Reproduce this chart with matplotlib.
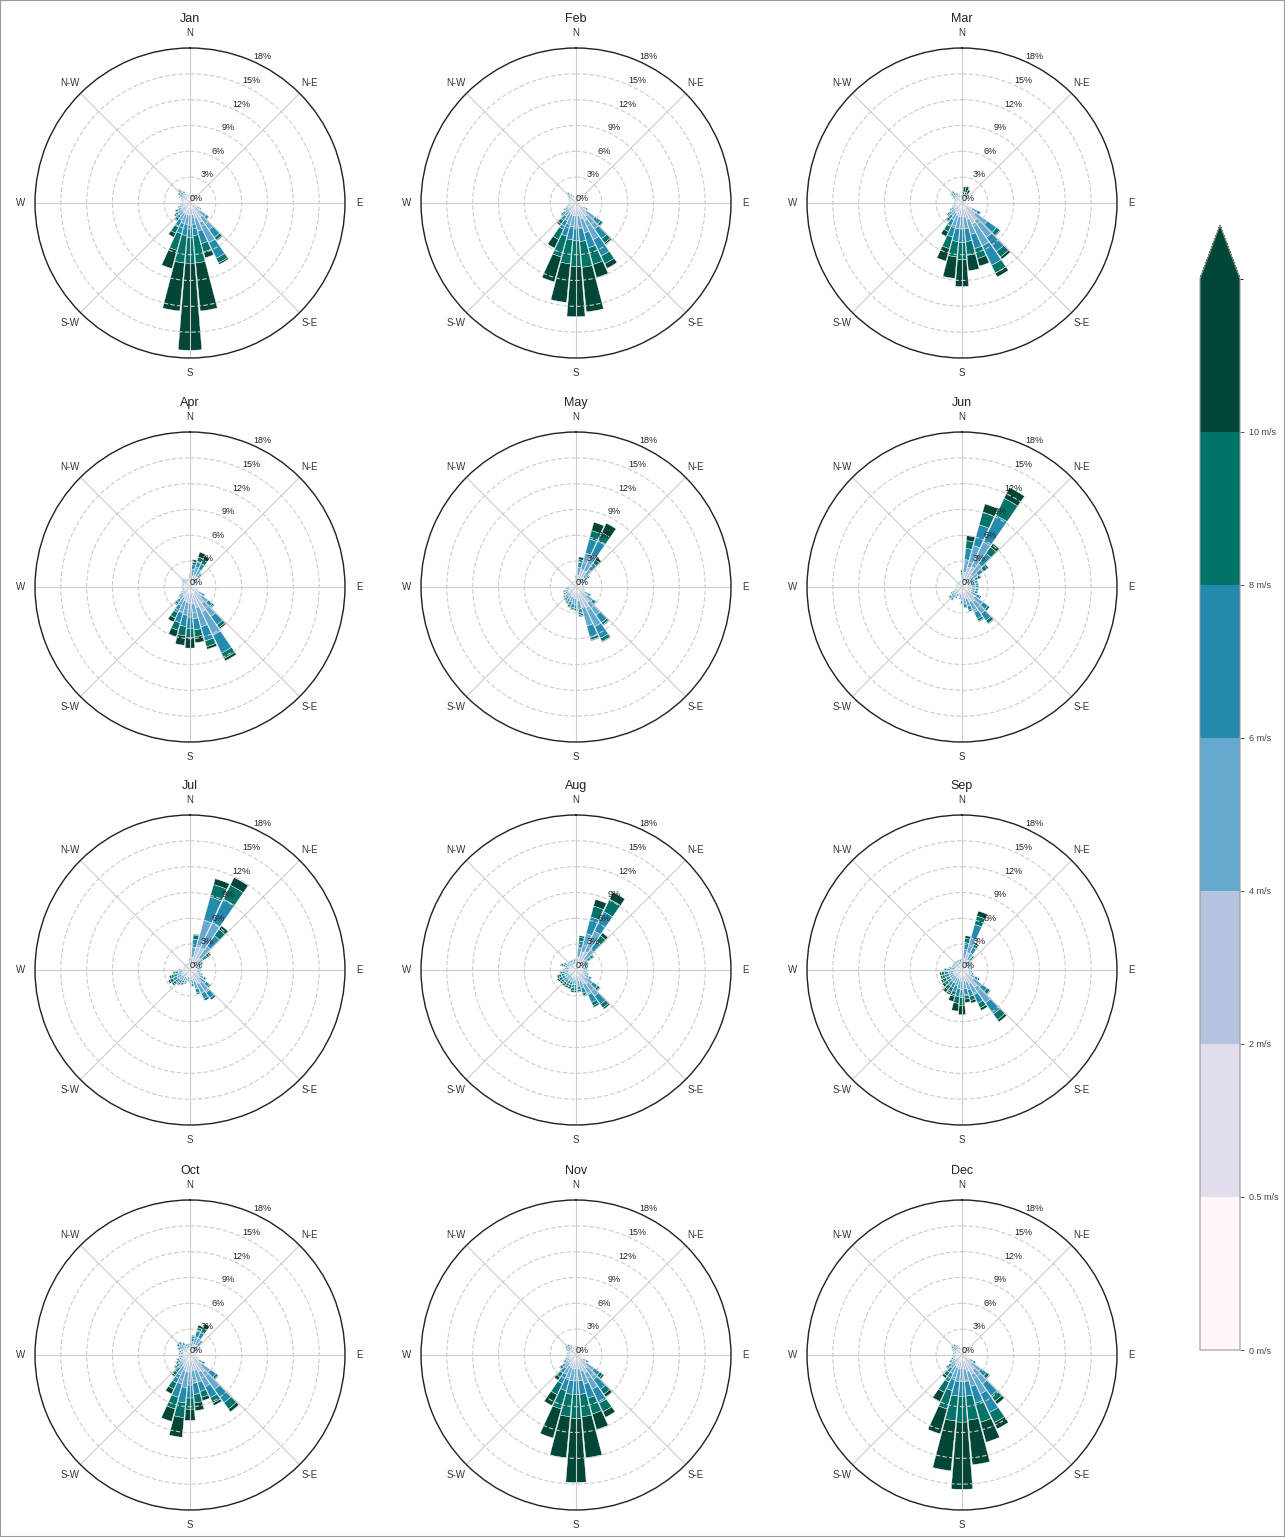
import numpy as np
import matplotlib
matplotlib.use("Agg")
import matplotlib.pyplot as plt
from matplotlib import colors as mcolors
from matplotlib.patches import Rectangle

months = ["Jan", "Feb", "Mar", "Apr", "May", "Jun",
          "Jul", "Aug", "Sep", "Oct", "Nov", "Dec"]
directions = np.arange(0, 360, 10)
speed_bins = [0, 0.5, 2, 4, 6, 8, 10]
speed_labels = ["0 m/s", "0.5 m/s", "2 m/s", "4 m/s", "6 m/s", "8 m/s", "10 m/s"]
dir_labels = ["N", "N-E", "E", "S-E", "S", "S-W", "W", "N-W"]
r_ticks = [0, 3, 6, 9, 12, 15, 18]

# frequency (%) per direction (0..350 deg, step 10), one value per speed bin
jan = [
    (.1,.2,.2,.1,.1,.1,0), (.1,.2,.2,.1,.1,.1,.1), (.1,.2,.2,.1,.1,.1,.1), (.1,.2,.2,.1,.1,0,0), (.1,.2,.1,.1,.1,0,0), (.1,.2,.1,.1,0,0,0),
    (.1,.2,.1,.1,0,0,0), (.1,.2,.1,.1,0,0,0), (.1,.2,.1,.1,0,0,0), (.1,.2,.1,.1,0,0,0), (.1,.2,.2,.1,0,0,0), (.1,.3,.2,.1,.1,0,0),
    (.1,.3,.5,.4,.2,0,0), (.1,.4,.9,.9,.4,.1,0), (.1,.5,1.4,1.8,1.1,.4,.1), (.1,.6,1.8,2.6,2.0,.6,.2), (.1,.5,1.2,1.6,1.5,1.0,.7), (.1,.4,.9,1.1,1.3,3.2,5.6),
    (.1,.4,.9,1.2,1.4,3.0,10.1), (.1,.4,.9,1.1,1.3,3.2,5.6), (.1,.4,.9,1.1,1.2,2.0,2.2), (.1,.4,.8,.9,.9,.8,.5), (.1,.4,.7,.6,.4,.3,.1), (.1,.4,.7,.6,.3,.2,0),
    (.1,.4,.6,.5,.3,.1,0), (.1,.4,.5,.3,.2,0,0), (.1,.3,.4,.2,.1,.1,0), (.1,.3,.3,.2,.1,0,0), (.1,.3,.3,.2,.1,0,0), (.1,.3,.4,.2,.1,.1,0),
    (.1,.4,.5,.3,.1,.1,0), (.1,.4,.6,.4,.2,.1,0), (.1,.5,.6,.4,.2,.1,.1), (.1,.4,.5,.3,.2,.1,0), (.1,.3,.4,.2,.1,.1,0), (.1,.3,.3,.2,.1,0,0),
]
feb = [
    (.1,.2,.1,.1,0,0,0), (.1,.2,.2,.1,.1,.1,.1), (.1,.2,.2,.1,.1,.1,.1), (.1,.2,.1,.1,.1,0,0), (.1,.2,.1,.1,0,0,0), (.1,.2,.1,.1,0,0,0),
    (.1,.2,.1,.1,0,0,0), (.1,.2,.1,.1,0,0,0), (.1,.2,.1,.1,0,0,0), (.1,.2,.1,.1,0,0,0), (.1,.2,.1,.1,0,0,0), (.1,.2,.1,.1,0,0,0),
    (.1,.3,.5,.4,.2,.1,0), (.1,.4,1.0,1.2,.8,.3,.1), (.1,.5,1.3,1.8,1.4,.6,.2), (.1,.6,1.6,2.4,2.1,1.0,.6), (.1,.5,1.3,1.7,1.8,2.0,1.6), (.1,.4,1.0,1.4,1.6,3.0,5.2),
    (.1,.4,1.0,1.3,1.6,3.0,5.8), (.1,.4,1.0,1.3,1.5,2.8,4.5), (.1,.4,.9,1.2,1.4,2.5,3.0), (.1,.4,.8,1.0,1.1,1.3,1.1), (.1,.4,.7,.7,.6,.5,.2), (.1,.4,.6,.5,.3,.2,.1),
    (.1,.4,.5,.4,.2,.1,0), (.1,.3,.4,.3,.1,.1,0), (.1,.3,.3,.2,.1,0,0), (.1,.3,.3,.2,.1,0,0), (.1,.2,.3,.2,.1,0,0), (.1,.2,.3,.2,.1,0,0),
    (.1,.3,.3,.2,.1,0,0), (.1,.3,.4,.3,.1,.1,0), (.1,.4,.5,.3,.2,.1,0), (.1,.3,.4,.3,.1,.1,0), (.1,.3,.3,.2,.1,0,0), (.1,.2,.2,.1,.1,0,0),
]
mar = [
    (.1,.2,.2,.1,.1,.1,.1), (.1,.2,.3,.2,.2,.3,.6), (.1,.2,.3,.2,.2,.3,.7), (.1,.2,.3,.2,.2,.2,.5), (.1,.2,.2,.2,.1,.1,.1), (.1,.2,.2,.1,.1,0,0),
    (.1,.2,.1,.1,0,0,0), (.1,.2,.1,.1,0,0,0), (.1,.2,.1,.1,0,0,0), (.1,.2,.1,.1,0,0,0), (.1,.2,.1,.1,0,0,0), (.1,.3,.2,.1,.1,0,0),
    (.1,.4,.8,.7,.4,.1,0), (.1,.5,1.3,1.7,1.3,.5,.1), (.1,.6,1.8,2.4,2.0,.8,.3), (.1,.6,2.0,2.8,2.5,1.0,.5), (.1,.5,1.4,1.8,1.7,1.2,.9), (.1,.4,1.1,1.4,1.5,1.6,1.8),
    (.1,.4,1.1,1.4,1.6,2.0,3.1), (.1,.4,1.1,1.4,1.5,1.8,2.5), (.1,.4,1.0,1.3,1.3,1.4,1.5), (.1,.4,.8,.9,.8,.7,.6), (.1,.4,.7,.6,.5,.3,.1), (.1,.4,.6,.5,.3,.2,.1),
    (.1,.4,.5,.4,.2,.1,0), (.1,.3,.4,.3,.1,.1,0), (.1,.3,.3,.2,.1,0,0), (.1,.3,.3,.2,.1,0,0), (.1,.3,.3,.2,.1,0,0), (.1,.3,.3,.2,.1,0,0),
    (.1,.3,.4,.3,.1,.1,0), (.1,.4,.5,.4,.2,.1,0), (.1,.4,.6,.4,.2,.1,0), (.1,.3,.4,.3,.2,.1,0), (.1,.3,.3,.2,.1,.1,0), (.1,.2,.2,.2,.1,.1,0),
]
apr = [
    (.1,.3,.4,.3,.2,.1,.1), (.1,.4,.8,.8,.5,.3,.3), (.1,.4,.9,1.0,.7,.5,.6), (.1,.4,.9,.9,.7,.5,.5), (.1,.3,.5,.5,.3,.2,.1), (.1,.2,.3,.2,.1,.1,0),
    (.1,.2,.2,.1,.1,0,0), (.1,.2,.2,.1,.1,0,0), (.1,.2,.2,.1,.1,0,0), (.1,.2,.2,.1,.1,0,0), (.1,.2,.2,.1,.1,0,0), (.1,.3,.3,.2,.1,0,0),
    (.1,.4,.6,.5,.3,.1,0), (.1,.5,1.0,1.0,.6,.2,.1), (.1,.6,1.6,1.9,1.2,.4,.2), (.1,.7,2.4,3.0,2.3,.7,.3), (.1,.6,1.8,2.3,1.7,.7,.3), (.1,.5,1.4,1.7,1.3,.8,.7),
    (.1,.5,1.3,1.6,1.3,1.1,1.2), (.1,.5,1.2,1.5,1.3,1.1,1.1), (.1,.5,1.1,1.4,1.2,.9,.8), (.1,.4,.9,1.0,.9,.7,.5), (.1,.4,.7,.6,.4,.3,.1), (.1,.4,.5,.4,.2,.1,0),
    (.1,.3,.4,.3,.1,.1,0), (.1,.3,.3,.2,.1,0,0), (.1,.3,.3,.2,.1,0,0), (.1,.3,.3,.2,.1,0,0), (.1,.3,.3,.2,.1,0,0), (.1,.3,.3,.2,.1,0,0),
    (.1,.3,.3,.2,.1,.1,0), (.1,.3,.4,.3,.1,.1,0), (.1,.3,.4,.3,.1,.1,0), (.1,.3,.3,.2,.1,.1,0), (.1,.3,.3,.2,.1,0,0), (.1,.3,.3,.2,.1,0,0),
]
may = [
    (.1,.3,.4,.3,.2,.1,0), (.1,.4,.9,.9,.6,.3,.3), (.1,.5,1.5,2.0,1.7,1.0,1.0), (.1,.5,1.5,2.0,1.8,1.1,1.2), (.1,.4,.9,1.1,.9,.5,.3), (.1,.3,.5,.5,.3,.2,.1),
    (.1,.3,.4,.3,.2,.1,0), (.1,.3,.3,.2,.1,0,0), (.1,.3,.3,.2,.1,0,0), (.1,.3,.3,.2,.1,0,0), (.1,.3,.3,.2,.1,0,0), (.1,.3,.4,.3,.1,0,0),
    (.1,.4,.6,.5,.3,.1,0), (.1,.5,.9,.9,.5,.1,0), (.1,.6,1.5,1.8,1.1,.3,.1), (.1,.6,2.0,2.4,1.5,.4,.1), (.1,.6,1.8,2.2,1.4,.3,.1), (.1,.5,1.0,1.0,.6,.2,.1),
    (.1,.4,.8,.8,.4,.2,.1), (.1,.4,.8,.7,.4,.2,.1), (.1,.4,.7,.6,.4,.2,.1), (.1,.4,.6,.5,.3,.2,.1), (.1,.4,.5,.4,.3,.2,.1), (.1,.4,.5,.4,.2,.1,.1),
    (.1,.4,.5,.4,.2,.1,0), (.1,.4,.5,.3,.2,.1,0), (.1,.3,.4,.3,.1,.1,0), (.1,.3,.3,.2,.1,0,0), (.1,.2,.2,.2,.1,0,0), (.1,.2,.2,.2,.1,0,0),
    (.1,.2,.2,.2,.1,0,0), (.1,.2,.2,.2,.1,0,0), (.1,.2,.2,.2,.1,0,0), (.1,.2,.2,.2,.1,0,0), (.1,.2,.2,.2,.1,0,0), (.1,.2,.2,.2,.1,0,0),
]
jun = [
    (.1,.3,.5,.5,.3,.2,.1), (.1,.4,1.2,1.5,1.3,.9,.6), (.1,.5,1.8,2.6,2.5,1.5,1.0), (.1,.5,2.0,3.2,3.4,2.2,1.4), (.1,.4,1.2,1.6,1.5,.9,.5), (.1,.4,.8,1.0,.8,.5,.2),
    (.1,.4,.6,.6,.4,.3,.1), (.1,.4,.6,.5,.3,.1,0), (.1,.4,.6,.5,.3,.1,0), (.1,.4,.6,.5,.3,.1,0), (.1,.4,.6,.5,.3,.1,0), (.1,.4,.6,.5,.3,.1,0),
    (.1,.4,.7,.7,.4,.2,0), (.1,.5,1.2,1.2,.7,.3,0), (.1,.5,1.5,1.7,1.0,.4,.1), (.1,.5,1.3,1.4,.8,.3,.1), (.1,.4,.9,.9,.5,.2,0), (.1,.4,.8,.7,.4,.1,0),
    (.1,.3,.6,.6,.3,.1,0), (.1,.3,.5,.4,.2,0,0), (.1,.3,.4,.3,.1,0,0), (.1,.3,.5,.4,.2,0,0), (.1,.4,.6,.5,.3,.1,0), (.1,.4,.6,.5,.3,.1,0),
    (.1,.3,.5,.4,.2,0,0), (.1,.3,.3,.2,.1,0,0), (.1,.2,.2,.2,.1,0,0), (.1,.2,.2,.2,.1,0,0), (.1,.2,.2,.2,.1,0,0), (.1,.2,.2,.2,.1,0,0),
    (.1,.2,.2,.2,.1,0,0), (.1,.2,.2,.2,.1,0,0), (.1,.2,.2,.2,.1,0,0), (.1,.2,.2,.2,.1,0,0), (.1,.2,.2,.2,.1,0,0), (.1,.2,.2,.2,.1,0,0),
]
jul = [
    (.1,.3,.4,.3,.2,.1,0), (.1,.4,1.0,1.2,.9,.5,.1), (.1,.5,2.2,3.2,2.8,1.5,.7), (.1,.5,2.2,3.3,3.0,1.8,1.0), (.1,.4,1.2,1.7,1.5,.9,.5), (.1,.3,.7,.8,.6,.3,.2),
    (.1,.3,.5,.5,.3,.1,0), (.1,.3,.4,.3,.2,0,0), (.1,.3,.4,.3,.2,0,0), (.1,.3,.4,.3,.2,0,0), (.1,.3,.4,.3,.2,0,0), (.1,.3,.5,.4,.2,.1,0),
    (.1,.4,.7,.6,.3,.1,0), (.1,.4,.9,.9,.5,.2,0), (.1,.5,1.3,1.3,.8,.3,0), (.1,.5,1.2,1.2,.7,.3,0), (.1,.4,.9,.9,.5,.2,0), (.1,.4,.6,.5,.3,.1,0),
    (.1,.3,.5,.4,.2,.1,0), (.1,.3,.4,.3,.2,.1,0), (.1,.3,.5,.4,.2,.1,.1), (.1,.3,.5,.5,.3,.2,.1), (.1,.3,.6,.5,.4,.2,.1), (.1,.3,.6,.6,.5,.3,.2),
    (.1,.3,.6,.7,.5,.4,.2), (.1,.3,.6,.6,.4,.3,.2), (.1,.3,.5,.5,.3,.2,.1), (.1,.3,.4,.3,.2,.1,0), (.1,.2,.3,.2,.1,0,0), (.1,.2,.3,.2,.1,0,0),
    (.1,.2,.3,.2,.1,0,0), (.1,.2,.3,.2,.1,0,0), (.1,.2,.3,.2,.1,0,0), (.1,.2,.3,.2,.1,0,0), (.1,.2,.3,.2,.1,0,0), (.1,.2,.3,.2,.1,0,0),
]
aug = [
    (.1,.3,.4,.3,.2,.1,0), (.1,.4,1.0,1.1,.8,.4,.2), (.1,.5,1.6,2.2,2.0,1.3,.8), (.1,.5,1.8,2.6,2.5,1.6,.9), (.1,.4,1.0,1.4,1.2,.8,.4), (.1,.3,.6,.7,.5,.3,.1),
    (.1,.3,.5,.4,.3,.1,0), (.1,.3,.4,.3,.2,.1,0), (.1,.3,.4,.3,.2,.1,0), (.1,.3,.4,.3,.2,.1,0), (.1,.3,.4,.3,.2,.1,0), (.1,.3,.5,.4,.2,.1,0),
    (.1,.4,.6,.6,.3,.1,0), (.1,.4,.9,1.0,.7,.3,.1), (.1,.5,1.4,1.7,1.2,.5,.2), (.1,.5,1.2,1.4,1.0,.4,.2), (.1,.4,.8,.9,.6,.3,.1), (.1,.4,.7,.7,.4,.2,.1),
    (.1,.4,.6,.6,.4,.3,.2), (.1,.4,.6,.6,.4,.3,.2), (.1,.3,.5,.5,.4,.3,.2), (.1,.3,.5,.5,.4,.3,.2), (.1,.3,.5,.5,.4,.3,.2), (.1,.3,.5,.5,.4,.3,.2),
    (.1,.3,.5,.5,.4,.4,.2), (.1,.3,.5,.5,.4,.3,.2), (.1,.3,.5,.4,.3,.2,.1), (.1,.3,.4,.4,.3,.1,0), (.1,.3,.4,.3,.2,.1,0), (.1,.3,.5,.4,.3,.2,.1),
    (.1,.3,.4,.4,.3,.1,0), (.1,.3,.3,.3,.2,.1,0), (.1,.3,.3,.3,.2,.1,0), (.1,.3,.3,.3,.2,.1,0), (.1,.3,.3,.3,.2,.1,0), (.1,.3,.3,.3,.2,.1,0),
]
sep = [
    (.1,.3,.4,.3,.2,.1,0), (.1,.4,.9,1.0,.8,.5,.3), (.1,.5,1.5,1.8,1.6,1.0,.6), (.1,.4,.8,.9,.7,.4,.2), (.1,.3,.5,.5,.4,.2,.1), (.1,.3,.4,.3,.2,.1,0),
    (.1,.3,.3,.3,.2,0,0), (.1,.3,.3,.3,.2,0,0), (.1,.3,.3,.3,.2,0,0), (.1,.3,.3,.3,.2,0,0), (.1,.3,.3,.3,.2,0,0), (.1,.3,.4,.4,.2,.1,0),
    (.1,.4,.6,.6,.4,.2,0), (.1,.5,1.0,1.2,.8,.4,.1), (.1,.6,1.8,2.2,1.6,.8,.3), (.1,.5,1.2,1.4,1.1,.6,.3), (.1,.4,.9,1.0,.8,.5,.3), (.1,.4,.8,.9,.7,.5,.4),
    (.1,.4,.8,1.0,.9,.9,1.1), (.1,.4,.8,.9,.9,.8,.9), (.1,.3,.7,.8,.7,.6,.6), (.1,.3,.6,.7,.6,.5,.4), (.1,.3,.6,.7,.6,.5,.4), (.1,.3,.6,.6,.5,.4,.3),
    (.1,.3,.6,.6,.5,.4,.2), (.1,.3,.6,.6,.5,.3,.2), (.1,.3,.6,.6,.5,.3,.2), (.1,.3,.5,.5,.4,.2,.1), (.1,.3,.4,.4,.3,.1,0), (.1,.3,.3,.3,.2,.1,0),
    (.1,.3,.3,.3,.2,.1,0), (.1,.3,.3,.3,.2,.1,0), (.1,.3,.3,.3,.2,.1,0), (.1,.3,.3,.3,.2,.1,0), (.1,.3,.3,.3,.2,.1,0), (.1,.3,.3,.3,.2,.1,0),
]
oct_ = [
    (.1,.3,.4,.3,.2,.1,0), (.1,.3,.6,.6,.4,.2,.1), (.1,.4,.8,.9,.7,.4,.3), (.1,.4,.8,.9,.7,.6,.5), (.1,.3,.5,.5,.4,.2,.1), (.1,.2,.3,.3,.2,.1,0),
    (.1,.2,.2,.2,.1,0,0), (.1,.2,.2,.2,.1,0,0), (.1,.2,.2,.2,.1,0,0), (.1,.2,.2,.2,.1,0,0), (.1,.2,.2,.2,.1,0,0), (.1,.3,.3,.2,.1,.1,0),
    (.1,.4,.6,.5,.3,.1,0), (.1,.5,1.1,1.2,.8,.3,.1), (.1,.6,1.8,2.4,1.9,.9,.4), (.1,.6,1.5,1.9,1.4,.7,.3), (.1,.5,1.2,1.5,1.1,.7,.4), (.1,.5,1.2,1.5,1.3,1.0,.9),
    (.1,.5,1.3,1.6,1.5,1.3,1.3), (.1,.5,1.4,1.8,1.8,1.7,2.3), (.1,.5,1.3,1.6,1.6,1.4,1.5), (.1,.4,1.0,1.1,1.0,.8,.6), (.1,.4,.7,.7,.6,.4,.2), (.1,.4,.6,.5,.4,.2,.1),
    (.1,.3,.5,.4,.3,.2,.1), (.1,.3,.5,.4,.3,.1,0), (.1,.3,.4,.3,.2,.1,0), (.1,.3,.4,.3,.2,.1,0), (.1,.3,.4,.3,.2,.1,0), (.1,.3,.4,.3,.2,.1,0),
    (.1,.3,.5,.4,.3,.1,0), (.1,.4,.6,.5,.3,.1,0), (.1,.4,.6,.5,.3,.1,0), (.1,.3,.5,.4,.3,.1,0), (.1,.3,.4,.3,.2,.1,0), (.1,.3,.4,.3,.2,.1,0),
]
nov = [
    (.1,.2,.2,.2,.1,.1,.1), (.1,.2,.2,.2,.1,.1,.1), (.1,.2,.2,.1,.1,.1,0), (.1,.2,.2,.1,.1,0,0), (.1,.2,.2,.1,.1,0,0), (.1,.2,.2,.1,.1,0,0),
    (.1,.2,.2,.1,.1,0,0), (.1,.2,.2,.1,.1,0,0), (.1,.2,.2,.1,.1,0,0), (.1,.2,.2,.1,.1,0,0), (.1,.2,.2,.1,.1,0,0), (.1,.2,.2,.1,.1,0,0),
    (.1,.3,.5,.4,.3,.1,0), (.1,.4,1.0,1.1,.8,.4,.2), (.1,.5,1.3,1.6,1.4,.7,.4), (.1,.6,1.6,2.1,1.8,1.1,.7), (.1,.5,1.3,1.6,1.7,1.9,1.9), (.1,.4,1.1,1.4,1.6,2.6,4.8),
    (.1,.4,1.1,1.4,1.6,2.8,7.4), (.1,.4,1.1,1.4,1.6,2.6,4.8), (.1,.4,1.0,1.3,1.5,2.2,3.5), (.1,.4,.9,1.1,1.2,1.4,1.4), (.1,.4,.7,.7,.7,.6,.4), (.1,.4,.6,.5,.4,.3,.1),
    (.1,.3,.5,.4,.3,.1,0), (.1,.3,.4,.3,.2,.1,0), (.1,.3,.3,.2,.1,.1,0), (.1,.3,.3,.2,.1,.1,0), (.1,.3,.3,.2,.1,.1,0), (.1,.3,.3,.2,.1,.1,0),
    (.1,.3,.4,.3,.2,.1,0), (.1,.3,.5,.4,.2,.1,0), (.1,.3,.5,.4,.2,.1,0), (.1,.3,.4,.3,.2,.1,0), (.1,.3,.3,.2,.1,.1,0), (.1,.2,.3,.2,.1,0,0),
]
dec = [
    (.1,.2,.2,.1,.1,.1,0), (.1,.2,.2,.1,.1,.1,.1), (.1,.2,.2,.1,.1,.1,0), (.1,.2,.2,.1,.1,0,0), (.1,.2,.2,.1,.1,0,0), (.1,.2,.2,.1,.1,0,0),
    (.1,.2,.2,.1,.1,0,0), (.1,.2,.2,.1,.1,0,0), (.1,.2,.2,.1,.1,0,0), (.1,.2,.2,.1,.1,0,0), (.1,.2,.2,.1,.1,0,0), (.1,.2,.2,.1,.1,0,0),
    (.1,.3,.6,.5,.3,.1,0), (.1,.4,1.0,1.2,.8,.4,.1), (.1,.5,1.5,2.0,1.7,.8,.4), (.1,.6,1.8,2.5,2.4,1.3,.8), (.1,.5,1.4,1.8,2.0,2.3,2.4), (.1,.4,1.1,1.5,1.7,2.8,5.2),
    (.1,.4,1.1,1.5,1.7,3.0,7.8), (.1,.4,1.1,1.5,1.7,2.9,5.8), (.1,.4,1.0,1.3,1.5,2.2,3.0), (.1,.4,.9,1.0,1.1,1.3,1.2), (.1,.4,.7,.7,.6,.5,.3), (.1,.4,.6,.5,.4,.2,.1),
    (.1,.3,.5,.4,.3,.1,0), (.1,.3,.4,.3,.2,.1,0), (.1,.3,.3,.2,.1,.1,0), (.1,.3,.3,.2,.1,.1,0), (.1,.3,.3,.2,.1,.1,0), (.1,.3,.3,.2,.1,.1,0),
    (.1,.3,.4,.3,.2,.1,0), (.1,.3,.5,.4,.2,.1,0), (.1,.3,.5,.4,.2,.1,0), (.1,.3,.4,.3,.2,.1,0), (.1,.3,.3,.2,.1,.1,0), (.1,.2,.3,.2,.1,0,0),
]
month_data = [jan, feb, mar, apr, may, jun, jul, aug, sep, oct_, nov, dec]

plt.rcParams['font.family'] = ['Liberation Sans', 'DejaVu Sans']

W, H = 1285, 1537
fig = plt.figure(figsize=(W / 100, H / 100), dpi=100)

cmap = plt.get_cmap('PuBuGn')
bin_colors = [cmap(v) for v in np.linspace(0, 1, len(speed_bins))]

centers_x = [190, 576, 962]
centers_y = [203, 587, 970, 1355]
R = 155
theta = np.radians(directions)
width = np.radians(10) * 0.92

for i, (name, data) in enumerate(zip(months, month_data)):
    cx = centers_x[i % 3]
    cy = centers_y[i // 3]
    ax = fig.add_axes([(cx - R) / W, 1 - (cy + R) / H, 2 * R / W, 2 * R / H],
                      projection='polar')
    ax.set_theta_zero_location('N')
    ax.set_theta_direction(-1)

    arr = np.array(data, dtype=float)
    bottom = np.zeros(len(directions))
    for k in range(arr.shape[1]):
        ax.bar(theta, arr[:, k], width=width, bottom=bottom, color=bin_colors[k],
               edgecolor='white', linewidth=0.3, zorder=1)
        bottom += arr[:, k]

    ax.set_ylim(0, 18)
    ax.set_thetagrids(np.arange(0, 360, 45), dir_labels, fontsize=7, color='#333333')
    ax.set_rgrids(r_ticks, [f"{t}%" for t in r_ticks], angle=24, fontsize=6.5, color='#222222')
    ax.tick_params(axis='x', pad=0)
    ax.xaxis.grid(True, color='#cccccc', linewidth=0.8, linestyle='-')
    ax.yaxis.grid(True, color='#cccccc', linewidth=0.8, linestyle=(0, (4, 2)))
    ax.spines['polar'].set_color('#222222')
    ax.spines['polar'].set_linewidth(1.0)
    ax.text(0.5, 1.095, name, transform=ax.transAxes, ha='center', va='center',
            fontsize=9, color='#222222')

# colorbar
cax = fig.add_axes([1200 / W, 1 - 1350 / H, 40 / W, 1125 / H])
bounds = speed_bins + [12]
cb_cmap = mcolors.ListedColormap(bin_colors)
cb_cmap.set_over(bin_colors[-1])
norm = mcolors.BoundaryNorm(bounds, cb_cmap.N)
sm = plt.cm.ScalarMappable(norm=norm, cmap=cb_cmap)
cb = fig.colorbar(sm, cax=cax, extend='max', spacing='uniform', ticks=speed_bins)
cb.set_ticklabels(speed_labels)
cb.ax.tick_params(labelsize=6.5, length=3, width=0.6, colors='#444444')
cb.outline.set_edgecolor('#999999')
cb.outline.set_linewidth(0.8)

fig.add_artist(Rectangle((0, 0), 1, 1, transform=fig.transFigure, fill=False,
                         edgecolor='#999999', linewidth=1.5))

fig.savefig('out.png', dpi=100)
